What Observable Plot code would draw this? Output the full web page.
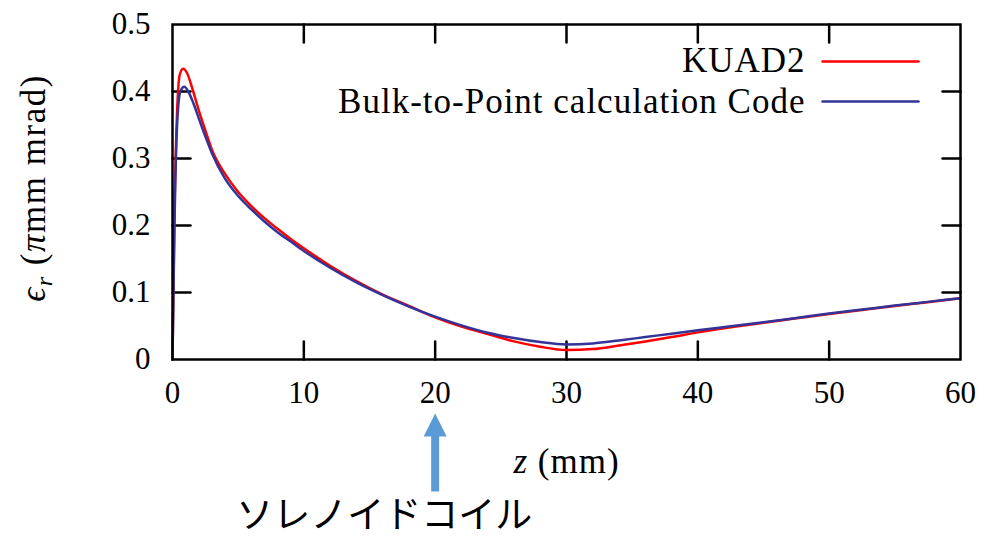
<!DOCTYPE html>
<html>
<head>
<meta charset="utf-8">
<script src="https://cdn.jsdelivr.net/npm/d3@7"></script>
<script src="https://cdn.jsdelivr.net/npm/@observablehq/plot@0.6"></script>
<style>
  html, body { margin: 0; padding: 0; background: #fff; }
</style>
</head>
<body>
<div id="chart"></div>
<script>
// Emittance along the beam axis: KUAD2 vs. the bulk-to-point code
const kuadZ = [0, 0.15, 0.35, 0.55, 0.8, 1.1, 1.5, 2, 2.5, 3, 4, 5, 6, 7, 8, 9, 10, 12, 14, 16, 18, 20, 22, 24, 26, 28, 30, 32, 34, 36, 38, 40, 42.5, 45, 47.5, 50, 52.5, 55, 57.5, 60];
const kuadE = [0, 0.22, 0.37, 0.425, 0.434, 0.428, 0.405, 0.372, 0.342, 0.313, 0.277, 0.25, 0.229, 0.211, 0.195, 0.18, 0.166, 0.14, 0.117, 0.097, 0.08, 0.063, 0.049, 0.038, 0.027, 0.019, 0.014, 0.0155, 0.021, 0.027, 0.0335, 0.0405, 0.048, 0.055, 0.0615, 0.068, 0.074, 0.08, 0.0855, 0.0915];

const btpZ = [0, 0.15, 0.35, 0.6, 0.9, 1.2, 1.6, 2, 2.5, 3, 4, 5, 6, 7, 8, 9, 10, 12, 14, 16, 18, 20, 22, 24, 26, 28, 30, 32, 34, 36, 38, 40, 42.5, 45, 47.5, 50, 52.5, 55, 57.5, 60];
const btpE = [0, 0.2, 0.35, 0.4, 0.407, 0.4, 0.382, 0.36, 0.333, 0.308, 0.27, 0.244, 0.224, 0.206, 0.19, 0.176, 0.162, 0.137, 0.115, 0.096, 0.079, 0.064, 0.051, 0.04, 0.032, 0.026, 0.0225, 0.024, 0.0285, 0.0335, 0.0385, 0.0435, 0.0495, 0.0555, 0.062, 0.0685, 0.0745, 0.0805, 0.086, 0.0915];

const xTicks = [0, 10, 20, 30, 40, 50, 60];
const yTicks = [0, 0.1, 0.2, 0.3, 0.4, 0.5];

const seriesNames = ["KUAD2", "Bulk-to-Point calculation Code"];
const seriesColors = ["#ff0000", "#33339a"];

const xLabel = "z (mm)";
const yLabel = "ϵr (πmm mrad)";

// solenoid coil position marker
const coil = [{z: 20, label: "ソレノイドコイル"}];

const serif = "'Liberation Serif', 'Times New Roman', serif";

const kuad = kuadZ.map((z, i) => ({z, e: kuadE[i]}));
const btp = btpZ.map((z, i) => ({z, e: btpE[i]}));

// straight tick stroke drawn from the anchor point
const tickShape = {draw(ctx, l) { ctx.moveTo(0, 0); ctx.lineTo(0, -l); }};
// block arrow: shaft plus triangular head
const blockArrow = {
  draw(ctx, l) {
    const shaft = 4, head = 11.5, headLen = 23;
    ctx.moveTo(-shaft, 0);
    ctx.lineTo(-shaft, -(l - headLen));
    ctx.lineTo(-head, -(l - headLen));
    ctx.lineTo(0, -l);
    ctx.lineTo(head, -(l - headLen));
    ctx.lineTo(shaft, -(l - headLen));
    ctx.lineTo(shaft, 0);
    ctx.closePath();
  }
};

const tickStyle = {stroke: "black", strokeWidth: 2.5, length: 18, anchor: "start", shape: tickShape};
const innerX = xTicks.slice(1, -1);
const innerY = yTicks.slice(1, -1);
const fmt = d3.format("~g");

const legendMarks = seriesNames.flatMap((name, i) => [
  Plot.text([name], {
    frameAnchor: "top-right", dx: -155, dy: 36 + 41 * i,
    text: d => d, textAnchor: "end", lineAnchor: "middle",
    fontFamily: serif, fontSize: 35, fill: "black"
  }),
  Plot.vector([name], {
    frameAnchor: "top-right", dx: -138, dy: 37 + 40 * i,
    length: 96, rotate: 90, anchor: "start", shape: tickShape,
    stroke: seriesColors[i], strokeWidth: 2.5
  })
]);

const svg = Plot.plot({
  width: 986,
  height: 540,
  marginLeft: 172,
  marginRight: 26,
  marginTop: 24,
  marginBottom: 181,
  x: {domain: [0, 60]},
  y: {domain: [0, 0.5]},
  style: {fontFamily: serif, fontSize: "31px", color: "black", background: "white"},
  marks: [
    Plot.axisX(xTicks, {tickSize: 0, tickPadding: 21, label: null, fontSize: 31, tickFormat: fmt}),
    Plot.axisY(yTicks, {tickSize: 0, tickPadding: 22, label: null, fontSize: 31, tickFormat: fmt}),
    // inward ticks on all four sides
    Plot.vector(innerX, {x: d => d, y: 0, rotate: 0, ...tickStyle}),
    Plot.vector(innerX, {x: d => d, y: 0.5, rotate: 180, ...tickStyle}),
    Plot.vector(innerY, {x: 0, y: d => d, rotate: 90, ...tickStyle}),
    Plot.vector(innerY, {x: 60, y: d => d, rotate: -90, ...tickStyle}),
    Plot.line(kuad, {x: "z", y: "e", stroke: seriesColors[0], strokeWidth: 2.5, curve: "monotone-x"}),
    Plot.line(btp, {x: "z", y: "e", stroke: seriesColors[1], strokeWidth: 2.5, curve: "monotone-x"}),
    Plot.frame({stroke: "black", strokeWidth: 2.5}),
    ...legendMarks,
    // axis titles
    Plot.text([xLabel], {frameAnchor: "bottom", dy: 102, text: d => d, textAnchor: "middle", lineAnchor: "middle", fontFamily: serif, fontSize: 35}),
    Plot.text([yLabel], {frameAnchor: "left", dx: -139, dy: -4, rotate: -90, text: d => d, textAnchor: "middle", lineAnchor: "middle", fontFamily: serif, fontSize: 35}),
    // solenoid coil annotation below the axis
    Plot.vector(coil, {x: "z", frameAnchor: "bottom", dy: 132, length: 78, anchor: "start", shape: blockArrow, fill: "#5b9bd5", stroke: "none"}),
    Plot.text(coil, {x: "z", text: "label", frameAnchor: "bottom", dy: 157, dx: -51, textAnchor: "middle", lineAnchor: "middle", fontFamily: "'Noto Sans CJK JP', 'Noto Sans', sans-serif", fontSize: 37, fill: "black"})
  ]
});

// italic symbols and subscript in the axis titles
function richText(root, plain, parts) {
  d3.select(root).selectAll("text")
    .filter(function () { return this.textContent === plain; })
    .each(function () {
      const t = d3.select(this);
      t.text(null);
      for (const p of parts) {
        const s = t.append("tspan").text(p.t).attr("font-family", serif);
        if (p.italic) s.attr("font-style", "italic");
        if (p.dy) s.attr("dy", p.dy);
        if (p.size) s.attr("font-size", p.size);
      }
    });
}
function spaceLetters(root, plain, px) {
  d3.select(root).selectAll("text")
    .filter(function () { return this.textContent === plain; })
    .attr("letter-spacing", px);
}
for (const name of seriesNames) spaceLetters(svg, name, 1);
spaceLetters(svg, xLabel, 1);
spaceLetters(svg, yLabel, 1.5);
richText(svg, xLabel, [{t: "z", italic: true}, {t: " (mm)"}]);
richText(svg, yLabel, [
  {t: "ϵ", italic: true},
  {t: "r", italic: true, dy: 7, size: 24},
  {t: " (", dy: -7},
  {t: "π", italic: true},
  {t: "mm mrad)"}
]);

document.getElementById("chart").appendChild(svg);
</script>
</body>
</html>
